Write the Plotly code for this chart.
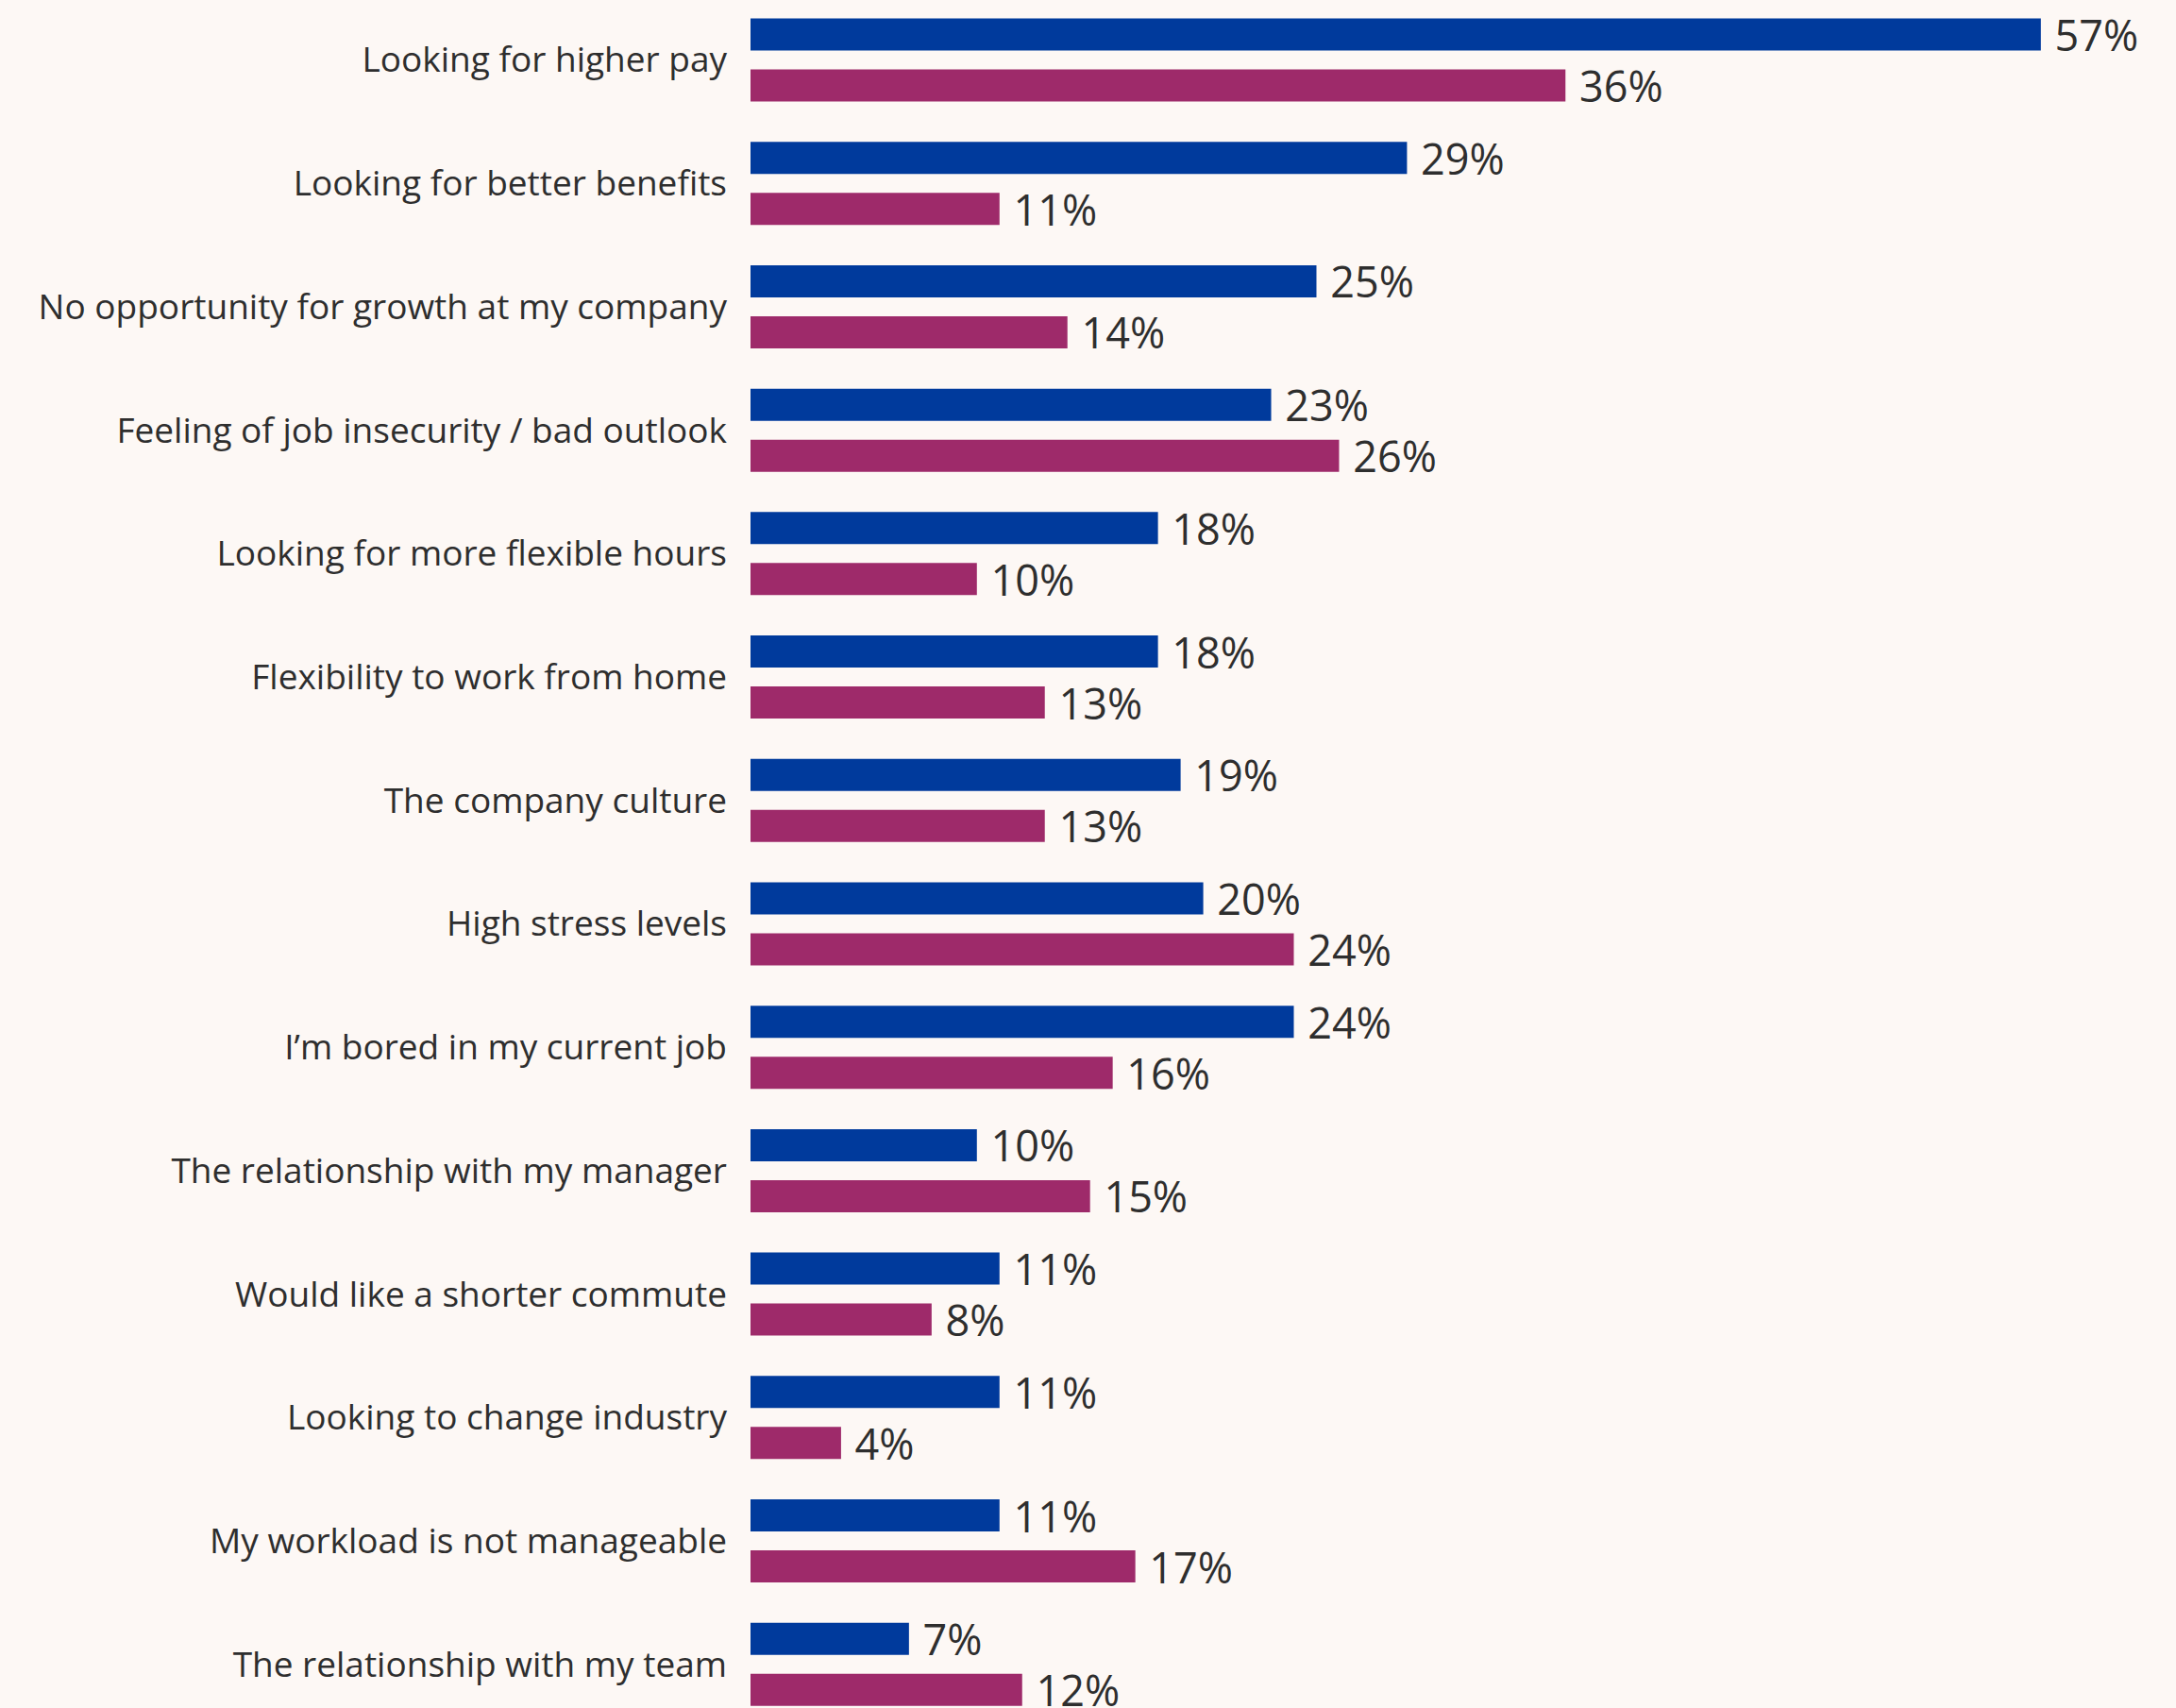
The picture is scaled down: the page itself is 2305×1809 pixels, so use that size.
import plotly.graph_objects as go

# Reasons for leaving a job, two respondent groups (percent)
reasons = [
    "Looking for higher pay",
    "Looking for better benefits",
    "No opportunity for growth at my company",
    "Feeling of job insecurity / bad outlook",
    "Looking for more flexible hours",
    "Flexibility to work from home",
    "The company culture",
    "High stress levels",
    "I’m bored in my current job",
    "The relationship with my manager",
    "Would like a shorter commute",
    "Looking to change industry",
    "My workload is not manageable",
    "The relationship with my team",
]
series_a = [57, 29, 25, 23, 18, 18, 19, 20, 24, 10, 11, 11, 11, 7]
series_b = [36, 11, 14, 26, 10, 13, 13, 24, 16, 15, 8, 4, 17, 12]

BLUE = "#003a9c"
MAGENTA = "#9e2a6a"
BG = "#fdf8f5"
TEXT = "#2e2e2e"
FONT = "'Open Sans', 'Noto Sans', sans-serif"

fig = go.Figure()
for vals, color in ((series_a, BLUE), (series_b, MAGENTA)):
    fig.add_trace(go.Bar(
        y=reasons,
        x=vals,
        orientation="h",
        marker=dict(color=color, line=dict(width=0)),
        text=[f"\u00a0{v}%" for v in vals],
        textposition="outside",
        constraintext="none",
        textfont=dict(family=FONT, size=45, color=TEXT),
        cliponaxis=False,
        hoverinfo="skip",
    ))

fig.update_layout(
    width=2305,
    height=1809,
    margin=dict(l=795, r=0, t=0, b=0),
    paper_bgcolor=BG,
    plot_bgcolor=BG,
    barmode="group",
    bargap=0.174,
    bargroupgap=0.37,
    showlegend=False,
    uniformtext=dict(mode=False),
    font=dict(family=FONT, color=TEXT),
    xaxis=dict(
        range=[0, 62.97],
        visible=False,
        showgrid=False,
        zeroline=False,
    ),
    yaxis=dict(
        type="category",
        range=[13.354, -0.486],
        showgrid=False,
        zeroline=False,
        showline=False,
        ticks="",
        ticklabelstandoff=24,
        tickfont=dict(family=FONT, size=37, color=TEXT),
    ),
)

fig.write_html("out.html")
